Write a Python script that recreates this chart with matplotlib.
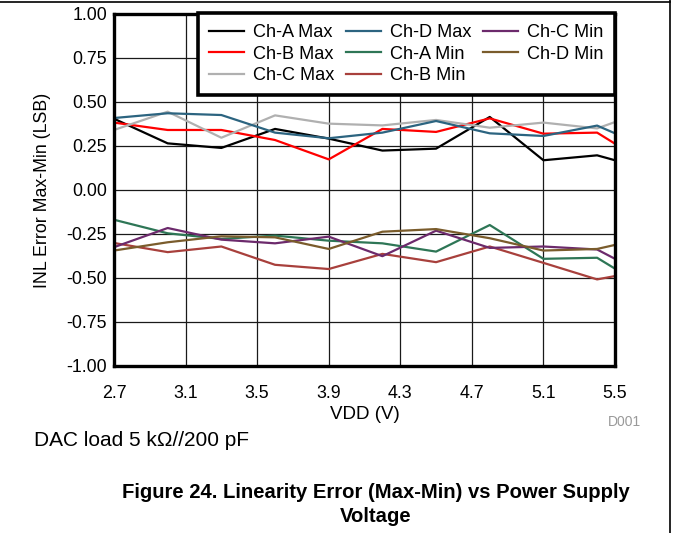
import numpy as np
import matplotlib.pyplot as plt
from matplotlib.lines import Line2D

plt.rcParams['font.family'] = ['Liberation Sans', 'DejaVu Sans']

# === DATA ===
vdd = [2.7, 3.0, 3.3, 3.6, 3.9, 4.2, 4.5, 4.8, 5.1, 5.4, 5.5]

cha_max = [0.405, 0.265, 0.239, 0.347, 0.292, 0.224, 0.235, 0.415, 0.169, 0.197, 0.169]
chb_max = [0.383, 0.341, 0.341, 0.284, 0.174, 0.347, 0.330, 0.407, 0.320, 0.326, 0.263]
chc_max = [0.341, 0.445, 0.297, 0.424, 0.377, 0.367, 0.398, 0.354, 0.383, 0.350, 0.386]
chd_max = [0.409, 0.436, 0.426, 0.326, 0.294, 0.326, 0.392, 0.322, 0.307, 0.366, 0.322]
cha_min = [-0.169, -0.246, -0.278, -0.259, -0.288, -0.303, -0.350, -0.199, -0.391, -0.385, -0.447]
chb_min = [-0.301, -0.353, -0.321, -0.425, -0.449, -0.363, -0.410, -0.321, -0.414, -0.508, -0.489]
chc_min = [-0.325, -0.216, -0.282, -0.303, -0.265, -0.376, -0.231, -0.329, -0.321, -0.338, -0.391]
chd_min = [-0.344, -0.297, -0.263, -0.269, -0.335, -0.237, -0.222, -0.274, -0.344, -0.335, -0.312]

series = [
    ('Ch-A Max', cha_max, '#000000'),
    ('Ch-B Max', chb_max, '#ff0000'),
    ('Ch-C Max', chc_max, '#b0b0b0'),
    ('Ch-D Max', chd_max, '#2c6480'),
    ('Ch-A Min', cha_min, '#2e7656'),
    ('Ch-B Min', chb_min, '#a8403c'),
    ('Ch-C Min', chc_min, '#6c2a6c'),
    ('Ch-D Min', chd_min, '#7a5c2c'),
]

xticks = [2.7, 3.1, 3.5, 3.9, 4.3, 4.7, 5.1, 5.5]
yticks = [-1.0, -0.75, -0.5, -0.25, 0.0, 0.25, 0.5, 0.75, 1.0]

# === Plot ===
fig = plt.figure(figsize=(6.74, 5.33), dpi=100)
ax = fig.add_axes([114 / 674, 1 - 366 / 533, 501 / 674, 352 / 533])

for name, vals, col in series:
    ax.plot(vdd, vals, color=col, linewidth=1.6, label=name)

ax.set_xlim(2.7, 5.5)
ax.set_ylim(-1.0, 1.0)
ax.set_xticks(xticks)
ax.set_xticklabels(['%.1f' % t for t in xticks])
ax.set_yticks(yticks)
ax.set_yticklabels(['%.2f' % t for t in yticks])
ax.tick_params(length=0, labelsize=12.8)
ax.tick_params(axis='x', pad=14)
ax.tick_params(axis='y', pad=5)
ax.grid(True, color='#1a1a1a', linewidth=0.9)
ax.set_axisbelow(True)
for sp in ax.spines.values():
    sp.set_linewidth(2.4)

ax.set_xlabel('VDD (V)', fontsize=13.5)
ax.set_ylabel('INL Error Max-Min (LSB)', fontsize=12.8)
ax.xaxis.set_label_coords(0.5, -0.114)
ax.yaxis.set_label_coords(-0.126, 0.5)

leg = ax.legend(ncol=3, loc='upper right', bbox_to_anchor=(1.0, 1.003),
                borderaxespad=0, fancybox=False, framealpha=1,
                fontsize=13.1, handlelength=1.95, handletextpad=0.5,
                columnspacing=0.6, labelspacing=0.24, borderpad=0.62)
leg.get_frame().set_edgecolor('black')
leg.get_frame().set_linewidth(2.6)

fig.text(624 / 674, 1 - 422 / 533, 'D001', color='#999999', fontsize=10,
         ha='center', va='center')
fig.text(34 / 674, 1 - 441 / 533, 'DAC load 5 k\u03a9//200 pF', fontsize=15,
         ha='left', va='center')
fig.text(376 / 674, 1 - 492 / 533,
         'Figure 24. Linearity Error (Max-Min) vs Power Supply',
         fontsize=14.6, fontweight='bold', ha='center', va='center')
fig.text(376 / 674, 1 - 517 / 533, 'Voltage', fontsize=14.6,
         fontweight='bold', ha='center', va='center')

# page frame lines
fig.add_artist(Line2D([0, 670 / 674], [1 - 1.5 / 533, 1 - 1.5 / 533],
                      color='black', linewidth=1.2))
fig.add_artist(Line2D([670 / 674, 670 / 674], [0, 1], color='black',
                      linewidth=1.2))

plt.savefig('out.png', dpi=100)
